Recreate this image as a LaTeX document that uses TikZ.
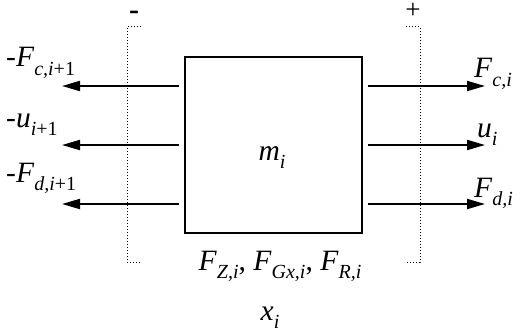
\documentclass[tikz,border=0pt]{standalone}
\usepackage{fontspec}
\setmainfont{Liberation Serif}
\usetikzlibrary{arrows.meta}
\newcommand{\mysub}[1]{\raisebox{-0.3em}{\fontsize{20}{20}\selectfont\itshape #1}}
\newcommand{\mysubup}[1]{\raisebox{-0.3em}{\fontsize{20}{20}\selectfont #1}}
\tikzset{
  lbl/.style={inner sep=0pt,font=\fontsize{29.5}{29.5}\selectfont},
  arr/.style={line width=2pt,-{Triangle[length=18pt,width=10pt]}},
  brk/.style={line width=1pt,dotted},
  blk/.style={draw,line width=2pt,minimum width=177pt,minimum height=176pt,inner sep=0pt}
}
\begin{document}
\begin{tikzpicture}[x=1pt,y=-1pt]
\useasboundingbox (0,0) rectangle (521,334);
\node[blk] (box) at (273.5,145) {};
\node[lbl,anchor=base] (m) at (272,160) {\textit{m}\mysub{i}};
% brackets
\coordinate (lt) at (141,27); \coordinate (ltc) at (127,27);
\coordinate (lbc) at (127,262); \coordinate (lb) at (141,262);
\draw[brk] (lt) -- (ltc) -- (lbc) -- (lb);
\coordinate (rt) at (406,27); \coordinate (rtc) at (420,27);
\coordinate (rbc) at (420,262); \coordinate (rb) at (406,262);
\draw[brk] (rt) -- (rtc) -- (rbc) -- (rb);
\node[lbl,anchor=base,font=\fontsize{30}{30}\selectfont\bfseries] (minus) at (134,20) {-};
\node[lbl,anchor=base,font=\fontsize{27}{27}\selectfont] (plus) at (413,19) {+};
% arrows
\foreach \n/\y in {a/86,b/145,c/204}{
  \coordinate (l\n s) at (179,\y); \coordinate (l\n e) at (62,\y);
  \coordinate (r\n s) at (368,\y); \coordinate (r\n e) at (485,\y);
  \draw[arr] (l\n s) -- (l\n e);
  \draw[arr] (r\n s) -- (r\n e);
}
% labels
\node[lbl,anchor=base west] (fc1) at (6,67) {-\textit{F}\mysub{c,i}\mysubup{+1}};
\node[lbl,anchor=base west] (u1) at (6,127) {-\textit{u}\mysub{i}\mysubup{+1}};
\node[lbl,anchor=base west] (fd1) at (6,182) {-\textit{F}\mysub{d,i}\mysubup{+1}};
\node[lbl,anchor=base west] (fc) at (474,78) {\textit{F}\mysub{c,i}};
\node[lbl,anchor=base west] (u) at (477,137) {\textit{u}\mysub{i}};
\node[lbl,anchor=base west] (fd) at (474,197) {\textit{F}\mysub{d,i}};
\node[lbl,anchor=base] (f) at (280,270) {\textit{F}\mysub{Z,i}, \textit{F}\mysub{Gx,i}, \textit{F}\mysub{R,i}};
\node[lbl,anchor=base] (x) at (270,320) {\textit{x}\mysub{i}};
\end{tikzpicture}
\end{document}
